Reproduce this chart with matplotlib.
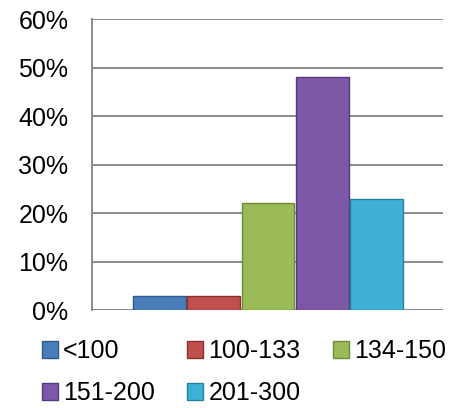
import numpy as np
import matplotlib
matplotlib.use("Agg")
import matplotlib.pyplot as plt
from matplotlib.patches import Patch

categorias = ["<100", "100-133", "134-150", "151-200", "201-300"]
valores = [3, 3, 22, 48, 23]
colores = ["#4A7EBB", "#C0504D", "#9BBB59", "#7D57A8", "#3EB0D4"]
bordes = ["#2C5A8C", "#8C2F2C", "#6E8C35", "#553A7A", "#25809C"]
yticks = [0, 10, 20, 30, 40, 50, 60]

plt.rcParams['font.family'] = ['Liberation Sans', 'DejaVu Sans']

fig = plt.figure(figsize=(4.61, 4.08), dpi=100)
ax = fig.add_axes([0.1996, 0.240, 0.7614, 0.713])

x = np.arange(len(categorias))
ax.bar(x, valores, width=0.97, color=colores, edgecolor=bordes, linewidth=1, zorder=3)

ax.set_ylim(0, 60)
ax.set_xlim(-1.235, 5.217)
ax.set_yticks(yticks)
ax.set_yticklabels(["%d%%" % v for v in yticks], fontsize=18)
ax.tick_params(axis='y', length=0, pad=17)
ax.set_xticks([])

for v in yticks:
    ax.axhline(v, color="#8A8A8A", lw=1.4, zorder=1)

for s in ["top", "right", "bottom"]:
    ax.spines[s].set_visible(False)
ax.spines["left"].set_color("#8A8A8A")
ax.spines["left"].set_linewidth(1.4)

# leyenda fila por fila
orden = [0, 3, 1, 4, 2]
handles = [Patch(facecolor=colores[i], edgecolor=bordes[i]) for i in orden]
labels = [categorias[i] for i in orden]
fig.legend(handles, labels, ncol=3, loc="upper left", bbox_to_anchor=(0.091, 0.168),
           frameon=False, fontsize=18, handlelength=0.64, handleheight=0.64,
           handletextpad=0.2, columnspacing=1.3, labelspacing=0.72,
           borderaxespad=0, borderpad=0)

fig.savefig("out.png", dpi=100)
